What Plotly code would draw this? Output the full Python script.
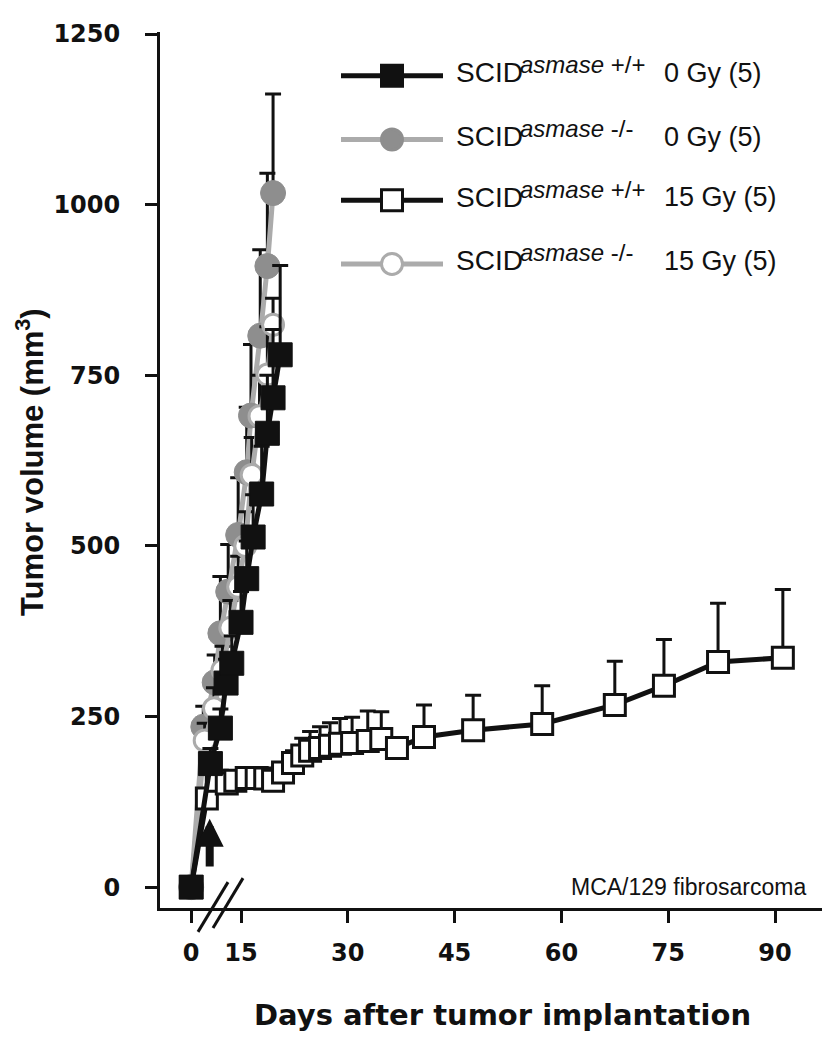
import plotly.graph_objects as go

# ---------------- data (days after implantation, tumor volume mm^3) ----------------
DAY0_POS = 8.0          # axis position at which day 0 is drawn (broken x axis)
ARROW_DAY = 10.6        # irradiation day marked by the arrow

wt0_days = [0, 10.7, 12.1, 12.9, 13.7, 15.0, 15.8, 16.7, 17.9, 18.7, 19.5, 20.5]
wt0_vol = [0, 181, 233, 299, 328, 388, 452, 513, 576, 665, 717, 780]
wt0_err = [0, 22, 28, 35, 40, 45, 55, 62, 70, 85, 100, 131]

ko0_days = [0, 9.7, 11.3, 12.1, 13.2, 14.6, 15.8, 16.4, 17.7, 18.7, 19.5]
ko0_vol = [0, 235, 300, 372, 433, 516, 608, 691, 808, 910, 1017]
ko0_err = [0, 30, 40, 83, 69, 84, 95, 104, 126, 136, 145]

wt15_days = [0, 10.2, 11.6, 13.0, 14.2, 15.8, 17.2, 18.4, 19.5, 20.9, 22.3, 23.6, 24.7,
             26.1, 27.5, 28.9, 30.6, 32.8, 34.7, 36.9, 40.7, 47.6, 57.3, 67.5, 74.4, 82.0, 91.1]
wt15_vol = [0, 130, 156, 152, 156, 160, 160, 159, 156, 168, 182, 193, 200,
            204, 207, 210, 211, 214, 217, 204, 220, 230, 239, 267, 295, 330, 336]
wt15_err = [0, 8, 8, 10, 10, 10, 10, 10, 10, 12, 18, 25, 28,
            31, 34, 37, 38, 44, 40, 12, 47, 51, 56, 64, 68, 86, 100]

ko15_days = [0, 9.9, 11.2, 12.4, 13.5, 14.6, 15.6, 16.5, 17.6, 18.7, 19.5]
ko15_vol = [0, 215, 262, 318, 380, 440, 500, 604, 690, 751, 824]
ko15_err = [0, 25, 30, 35, 40, 45, 50, 55, 60, 70, 39]

x_ticks = [0, 15, 30, 45, 60, 75, 90]
y_ticks = [0, 250, 500, 750, 1000, 1250]

legend_labels = [("+/+", "0 Gy (5)"), ("-/-", "0 Gy (5)"),
                 ("+/+", "15 Gy (5)"), ("-/-", "15 Gy (5)")]

# ---------------- layout geometry ----------------
BODY = 8                      # default page margin of the html body
W_FIG, H_FIG = 837 - BODY, 1050 - BODY
# plot-area edges in window pixels
PL, PR, PT, PB = 160, 822, 28, 908
PW, PH = PR - PL, PB - PT


def px(x):
    return (x - PL) / PW


def py(y):
    return (PB - y) / PH


def axis_pos(days):
    return [DAY0_POS if d == 0 else d for d in days]


BLACK = "#111111"
GRAY_LINE = "#ababab"
GRAY_FILL = "#8e8e8e"

fig = go.Figure()


def err(arr):
    return dict(type="data", symmetric=False, array=arr, arrayminus=[0] * len(arr),
                color=BLACK, thickness=3, width=8)


# gray filled circles (-/- 0 Gy)
fig.add_trace(go.Scatter(
    x=axis_pos(ko0_days), y=ko0_vol, mode="lines+markers", error_y=err(ko0_err),
    line=dict(color=GRAY_LINE, width=5),
    marker=dict(symbol="circle", size=25, color=GRAY_FILL, line=dict(color=GRAY_FILL, width=1)),
    showlegend=False))
# gray open circles (-/- 15 Gy)
fig.add_trace(go.Scatter(
    x=axis_pos(ko15_days), y=ko15_vol, mode="lines+markers", error_y=err(ko15_err),
    line=dict(color=GRAY_LINE, width=5),
    marker=dict(symbol="circle", size=21, color="white", line=dict(color=GRAY_LINE, width=3)),
    showlegend=False))
# open squares (+/+ 15 Gy)
fig.add_trace(go.Scatter(
    x=axis_pos(wt15_days), y=wt15_vol, mode="lines+markers", error_y=err(wt15_err),
    line=dict(color=BLACK, width=5),
    marker=dict(symbol="square", size=21, color="white", line=dict(color=BLACK, width=3)),
    showlegend=False))
# black squares (+/+ 0 Gy)
fig.add_trace(go.Scatter(
    x=axis_pos(wt0_days), y=wt0_vol, mode="lines+markers", error_y=err(wt0_err),
    line=dict(color=BLACK, width=5),
    marker=dict(symbol="square", size=24, color=BLACK, line=dict(color=BLACK, width=1)),
    showlegend=False))

shapes = []
annotations = []

# ---- custom legend (line + marker + text) ----
row_y = [72, 136, 197, 261]
styles = [
    dict(lc=BLACK, kind="rect", fill=BLACK, edge=BLACK),
    dict(lc=GRAY_LINE, kind="circle", fill=GRAY_FILL, edge=GRAY_FILL),
    dict(lc=BLACK, kind="rect", fill="white", edge=BLACK),
    dict(lc=GRAY_LINE, kind="circle", fill="white", edge=GRAY_LINE),
]
for (geno, dose), yy, st in zip(legend_labels, row_y, styles):
    shapes.append(dict(type="line", xref="paper", yref="paper",
                       x0=px(341), x1=px(443), y0=py(yy), y1=py(yy),
                       line=dict(color=st["lc"], width=5)))
    r = 10.5
    shapes.append(dict(type=st["kind"], xref="paper", yref="paper",
                       x0=px(392 - r), x1=px(392 + r), y0=py(yy + r), y1=py(yy - r),
                       fillcolor=st["fill"], line=dict(color=st["edge"], width=3)))
    ty = yy - 3
    annotations.append(dict(text="SCID", xref="paper", yref="paper", x=px(454), y=py(ty),
                            xanchor="left", yanchor="middle", showarrow=False,
                            font=dict(family="Liberation Sans, Arial", size=28, color=BLACK)))
    annotations.append(dict(text="<i>asmase</i> " + geno, xref="paper", yref="paper",
                            x=px(518), y=py(ty - 8), xanchor="left", yanchor="middle",
                            showarrow=False,
                            font=dict(family="Liberation Sans, Arial", size=24, color=BLACK)))
    annotations.append(dict(text=dose, xref="paper", yref="paper", x=px(662), y=py(ty),
                            xanchor="left", yanchor="middle", showarrow=False,
                            font=dict(family="Liberation Sans, Arial", size=27, color=BLACK)))

# ---- axis break marks ----
for (x0, y0, x1, y1) in [(198, 932, 228, 882), (213, 928, 243, 878)]:
    shapes.append(dict(type="line", xref="paper", yref="paper",
                       x0=px(x0), y0=py(y0), x1=px(x1), y1=py(y1),
                       line=dict(color=BLACK, width=3)))

# ---- irradiation arrow ----
annotations.append(dict(x=ARROW_DAY, y=100, ax=ARROW_DAY, ay=28, xref="x", yref="y",
                        axref="x", ayref="y", text="", showarrow=True, arrowhead=2,
                        arrowsize=0.7, arrowwidth=8, arrowcolor=BLACK))

# ---- tumour label ----
annotations.append(dict(text="MCA/129 fibrosarcoma", xref="paper", yref="paper",
                        x=px(808), y=py(887), xanchor="right", yanchor="middle",
                        showarrow=False,
                        font=dict(family="Liberation Sans, Arial", size=23, color=BLACK)))

# ---- axis titles ----
annotations.append(dict(text="Days after tumor implantation", xref="paper", yref="paper",
                        x=px(502), y=py(1015), xanchor="center", yanchor="middle",
                        showarrow=False,
                        font=dict(family="DejaVu Sans", size=29, color=BLACK, weight="bold")))
annotations.append(dict(text="Tumor volume (mm<sup>3</sup>)", xref="paper", yref="paper",
                        x=px(30), y=py(460), xanchor="center", yanchor="middle",
                        textangle=-90, showarrow=False,
                        font=dict(family="Liberation Sans Narrow, Arial Narrow, Liberation Sans",
                                  size=31, color=BLACK, weight="bold")))

tick_font = dict(family="DejaVu Sans", size=24, color=BLACK, weight="bold")

fig.update_layout(
    width=W_FIG, height=H_FIG,
    margin=dict(l=PL - BODY, r=W_FIG - (PR - BODY), t=PT - BODY, b=H_FIG - (PB - BODY), pad=0),
    paper_bgcolor="white", plot_bgcolor="white",
    shapes=shapes, annotations=annotations, showlegend=False,
    xaxis=dict(range=[3.62, 96.6], tickvals=[DAY0_POS if t == 0 else t for t in x_ticks],
               ticktext=[str(t) for t in x_ticks], ticks="outside", ticklen=12, tickwidth=3,
               tickcolor=BLACK, showline=True, linewidth=3, linecolor=BLACK,
               showgrid=False, zeroline=False, tickfont=tick_font, ticklabelstandoff=9),
    yaxis=dict(range=[-30.6, 1253], tickvals=y_ticks, ticks="outside", ticklen=12,
               tickwidth=3, tickcolor=BLACK, showline=True, linewidth=3, linecolor=BLACK,
               showgrid=False, zeroline=False, tickfont=tick_font, ticklabelstandoff=20),
)

fig.write_html("out.html")
